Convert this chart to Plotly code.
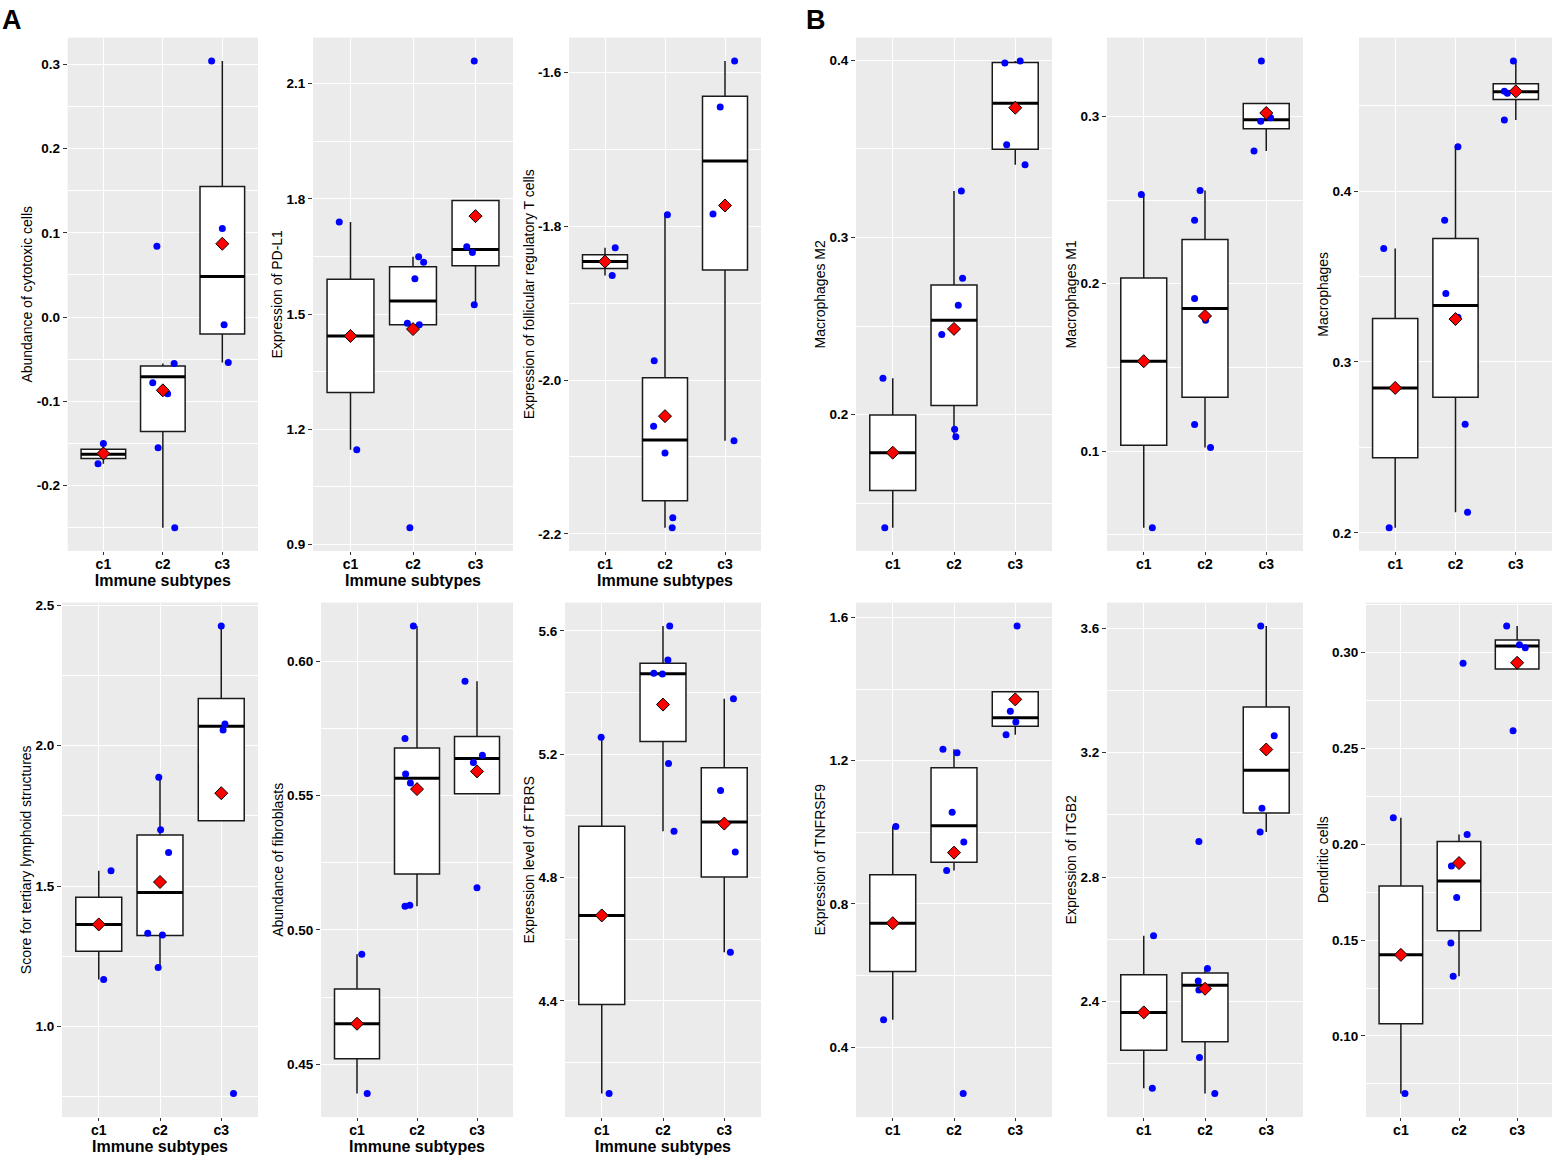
import plotly.graph_objects as go

# ---------------- data ----------------
categories = ["c1", "c2", "c3"]
x_title = "Immune subtypes"

# box stats per group: [lower whisker, Q1, median, Q3, upper whisker]
cyto_label = "Abundance of cytotoxic cells"
cyto_points = [[-0.150, -0.174],
               [0.084, -0.078, -0.091, -0.055, -0.155, -0.250],
               [0.304, 0.105, -0.009, -0.054]]
cyto_box = [[-0.174, -0.168, -0.163, -0.157, -0.150],
            [-0.250, -0.136, -0.071, -0.058, -0.055],
            [-0.054, -0.020, 0.048, 0.155, 0.304]]
cyto_mean = [-0.162, -0.087, 0.087]
cyto_ticks = [-0.2, -0.1, 0.0, 0.1, 0.2, 0.3]
cyto_ticklabels = ["-0.2", "-0.1", "0.0", "0.1", "0.2", "0.3"]

pdl1_label = "Expression of PD-L1"
pdl1_points = [[1.740, 1.147],
               [0.944, 1.649, 1.635, 1.592, 1.476, 1.472],
               [2.159, 1.675, 1.660, 1.524]]
pdl1_box = [[1.147, 1.296, 1.443, 1.591, 1.740],
            [1.472, 1.472, 1.534, 1.623, 1.649],
            [1.524, 1.626, 1.668, 1.796, 1.796]]
pdl1_mean = [1.443, 1.461, 1.755]
pdl1_ticks = [0.9, 1.2, 1.5, 1.8, 2.1]
pdl1_ticklabels = ["0.9", "1.2", "1.5", "1.8", "2.1"]

tfr_label = "Expression of follicular regulatory T cells"
tfr_points = [[-1.828, -1.864],
              [-1.785, -1.975, -2.060, -2.095, -2.179, -2.192],
              [-1.585, -1.645, -1.784, -2.079]]
tfr_box = [[-1.864, -1.855, -1.846, -1.837, -1.828],
           [-2.192, -2.157, -2.078, -1.997, -1.785],
           [-2.079, -1.857, -1.715, -1.631, -1.585]]
tfr_mean = [-1.846, -2.047, -1.773]
tfr_ticks = [-2.2, -2.0, -1.8, -1.6]
tfr_ticklabels = ["-2.2", "-2.0", "-1.8", "-1.6"]

m2_label = "Macrophages M2"
m2_points = [[0.2205, 0.1363],
             [0.3261, 0.2770, 0.2617, 0.2452, 0.1918, 0.1876],
             [0.3984, 0.3995, 0.3523, 0.3410]]
m2_box = [[0.1363, 0.1572, 0.1786, 0.1999, 0.2205],
          [0.1876, 0.2052, 0.2532, 0.2732, 0.3261],
          [0.3410, 0.3497, 0.3757, 0.3986, 0.3995]]
m2_mean = [0.1786, 0.2484, 0.3731]
m2_ticks = [0.2, 0.3, 0.4]
m2_ticklabels = ["0.2", "0.3", "0.4"]

m1_label = "Macrophages M1"
m1_points = [[0.2533, 0.0542],
             [0.2558, 0.2380, 0.1912, 0.1782, 0.1159, 0.1021],
             [0.3332, 0.2972, 0.2992, 0.2794]]
m1_box = [[0.0542, 0.1035, 0.1537, 0.2034, 0.2533],
          [0.1021, 0.1321, 0.1852, 0.2265, 0.2558],
          [0.2794, 0.2927, 0.2981, 0.3078, 0.3078]]
m1_mean = [0.1537, 0.1807, 0.3021]
m1_ticks = [0.1, 0.2, 0.3]
m1_ticklabels = ["0.1", "0.2", "0.3"]

mac_label = "Macrophages"
mac_points = [[0.3664, 0.2030],
              [0.4259, 0.3829, 0.3400, 0.3262, 0.2635, 0.2120],
              [0.4762, 0.4584, 0.4573, 0.4417]]
mac_box = [[0.2030, 0.2439, 0.2848, 0.3255, 0.3664],
           [0.2120, 0.2793, 0.3330, 0.3722, 0.4259],
           [0.4417, 0.4536, 0.4582, 0.4628, 0.4762]]
mac_mean = [0.2848, 0.3251, 0.4584]
mac_ticks = [0.2, 0.3, 0.4]
mac_ticklabels = ["0.2", "0.3", "0.4"]

tls_label = "Score for tertiary lymphoid structures"
tls_points = [[1.555, 1.168],
              [1.888, 1.701, 1.620, 1.333, 1.326, 1.211],
              [2.426, 2.077, 2.056, 0.762]]
tls_box = [[1.168, 1.269, 1.364, 1.461, 1.555],
           [1.211, 1.325, 1.478, 1.682, 1.888],
           [1.733, 1.733, 2.069, 2.168, 2.426]]
tls_mean = [1.364, 1.515, 1.831]
tls_ticks = [1.0, 1.5, 2.0, 2.5]
tls_ticklabels = ["1.0", "1.5", "2.0", "2.5"]

fib_label = "Abundance of fibroblasts"
fib_points = [[0.4910, 0.4391],
              [0.6131, 0.5712, 0.5580, 0.5547, 0.5088, 0.5092],
              [0.5925, 0.5650, 0.5623, 0.5157]]
fib_box = [[0.4391, 0.4521, 0.4651, 0.4780, 0.4910],
           [0.5088, 0.5208, 0.5564, 0.5677, 0.6131],
           [0.5507, 0.5507, 0.5638, 0.5720, 0.5925]]
fib_mean = [0.4651, 0.5524, 0.5590]
fib_ticks = [0.45, 0.50, 0.55, 0.60]
fib_ticklabels = ["0.45", "0.50", "0.55", "0.60"]

ftbrs_label = "Expression level of FTBRS"
ftbrs_points = [[5.255, 4.099],
                [5.616, 5.506, 5.463, 5.460, 5.170, 4.950],
                [5.380, 5.082, 4.883, 4.558]]
ftbrs_box = [[4.099, 4.388, 4.677, 4.966, 5.255],
             [4.950, 5.241, 5.461, 5.495, 5.616],
             [4.558, 4.802, 4.980, 5.156, 5.380]]
ftbrs_mean = [4.677, 5.361, 4.975]
ftbrs_ticks = [4.4, 4.8, 5.2, 5.6]
ftbrs_ticklabels = ["4.4", "4.8", "5.2", "5.6"]

tnf_label = "Expression of TNFRSF9"
tnf_points = [[1.016, 0.476],
              [1.232, 1.222, 1.056, 0.973, 0.893, 0.270],
              [1.576, 1.338, 1.308, 1.272]]
tnf_box = [[0.476, 0.611, 0.746, 0.881, 1.016],
           [0.893, 0.916, 1.018, 1.180, 1.232],
           [1.272, 1.296, 1.320, 1.392, 1.392]]
tnf_mean = [0.746, 0.943, 1.371]
tnf_ticks = [0.4, 0.8, 1.2, 1.6]
tnf_ticklabels = ["0.4", "0.8", "1.2", "1.6"]

itgb2_label = "Expression of ITGB2"
itgb2_points = [[2.611, 2.121],
                [2.914, 2.506, 2.466, 2.437, 2.220, 2.104],
                [3.607, 3.254, 3.021, 2.945]]
itgb2_box = [[2.121, 2.243, 2.365, 2.486, 2.611],
             [2.104, 2.271, 2.452, 2.492, 2.506],
             [2.945, 3.006, 3.143, 3.347, 3.607]]
itgb2_mean = [2.365, 2.441, 3.210]
itgb2_ticks = [2.4, 2.8, 3.2, 3.6]
itgb2_ticklabels = ["2.4", "2.8", "3.2", "3.6"]

dc_label = "Dendritic cells"
dc_points = [[0.2139, 0.0699],
             [0.2945, 0.2051, 0.1887, 0.1722, 0.1485, 0.1312],
             [0.3139, 0.3041, 0.3026, 0.2592]]
dc_box = [[0.0699, 0.1064, 0.1423, 0.1782, 0.2139],
          [0.1312, 0.1549, 0.1808, 0.2015, 0.2051],
          [0.2915, 0.2915, 0.3034, 0.3066, 0.3139]]
dc_mean = [0.1423, 0.1902, 0.2947]
dc_ticks = [0.10, 0.15, 0.20, 0.25, 0.30]
dc_ticklabels = ["0.10", "0.15", "0.20", "0.25", "0.30"]

# horizontal jitter of the points as seen in the picture (category units)
cyto_jit = [[0.00, -0.09], [-0.10, -0.17, 0.08, 0.19, -0.08, 0.20], [-0.18, 0.00, 0.03, 0.10]]
pdl1_jit = [[-0.18, 0.10], [-0.05, 0.09, 0.17, 0.03, -0.09, 0.10], [-0.02, -0.14, -0.05, -0.02]]
tfr_jit = [[0.17, 0.12], [0.04, -0.18, -0.19, 0.00, 0.13, 0.12], [0.16, -0.08, -0.20, 0.15]]
m2_jit = [[-0.16, -0.13], [0.12, 0.14, 0.07, -0.20, 0.01, 0.03], [-0.17, 0.08, -0.14, 0.16]]
m1_jit = [[-0.04, 0.14], [-0.08, -0.17, -0.17, 0.01, -0.17, 0.09], [-0.08, -0.09, 0.07, -0.20]]
mac_jit = [[-0.19, -0.10], [0.04, -0.18, -0.16, 0.04, 0.16, 0.20], [-0.04, -0.19, -0.14, -0.19]]
tls_jit = [[0.20, 0.08], [-0.02, 0.01, 0.14, -0.20, 0.04, -0.03], [0.00, 0.06, 0.03, 0.20]]
fib_jit = [[0.08, 0.17], [-0.06, -0.20, -0.19, -0.11, -0.20, -0.12], [-0.20, 0.09, -0.06, 0.00]]
ftbrs_jit = [[-0.01, 0.12], [0.11, 0.08, -0.15, -0.01, 0.09, 0.18], [0.15, -0.06, 0.18, 0.10]]
tnf_jit = [[0.05, -0.15], [-0.18, 0.05, -0.03, 0.16, -0.12, 0.15], [0.03, -0.08, 0.01, -0.15]]
itgb2_jit = [[0.16, 0.14], [-0.10, 0.04, -0.11, -0.10, -0.09, 0.16], [-0.09, 0.13, -0.07, -0.10]]
dc_jit = [[-0.13, 0.07], [0.07, 0.14, -0.13, -0.04, -0.14, -0.10], [-0.18, 0.04, 0.14, -0.07]]

# ---------------- layout (pixels in a 1557 x 1155 page) ----------------
W, H = 1557, 1155
row_px = [(37.6, 551.0), (602.6, 1117.0)]
panels = [
    (cyto_label, cyto_points, cyto_box, cyto_mean, cyto_ticks, cyto_ticklabels, cyto_jit, True, (67.7, 258), 0),
    (pdl1_label, pdl1_points, pdl1_box, pdl1_mean, pdl1_ticks, pdl1_ticklabels, pdl1_jit, True, (313, 513), 0),
    (tfr_label, tfr_points, tfr_box, tfr_mean, tfr_ticks, tfr_ticklabels, tfr_jit, True, (569, 761), 0),
    (m2_label, m2_points, m2_box, m2_mean, m2_ticks, m2_ticklabels, m2_jit, False, (856, 1052), 0),
    (m1_label, m1_points, m1_box, m1_mean, m1_ticks, m1_ticklabels, m1_jit, False, (1107, 1303), 0),
    (mac_label, mac_points, mac_box, mac_mean, mac_ticks, mac_ticklabels, mac_jit, False, (1359, 1552), 0),
    (tls_label, tls_points, tls_box, tls_mean, tls_ticks, tls_ticklabels, tls_jit, True, (62, 258), 1),
    (fib_label, fib_points, fib_box, fib_mean, fib_ticks, fib_ticklabels, fib_jit, True, (321, 513), 1),
    (ftbrs_label, ftbrs_points, ftbrs_box, ftbrs_mean, ftbrs_ticks, ftbrs_ticklabels, ftbrs_jit, True, (565, 761), 1),
    (tnf_label, tnf_points, tnf_box, tnf_mean, tnf_ticks, tnf_ticklabels, tnf_jit, False, (856, 1052), 1),
    (itgb2_label, itgb2_points, itgb2_box, itgb2_mean, itgb2_ticks, itgb2_ticklabels, itgb2_jit, False, (1107, 1303), 1),
    (dc_label, dc_points, dc_box, dc_mean, dc_ticks, dc_ticklabels, dc_jit, False, (1366, 1552), 1),
]

FONT = "Liberation Sans, Arial, Helvetica, sans-serif"
BOX_W = 0.75
xpos = [1, 2, 3]

fig = go.Figure()
layout_axes = {}
for k, (ylab, pts, box, mean, ticks, tlabels, jit, show_xt, (px0, px1), row) in enumerate(panels, start=1):
    sfx = "" if k == 1 else str(k)
    xr, yr = "x" + sfx, "y" + sfx

    lo = [b[0] for b in box]
    q1 = [b[1] for b in box]
    med = [b[2] for b in box]
    q3 = [b[3] for b in box]
    hi = [b[4] for b in box]

    fig.add_trace(go.Box(
        x=xpos, lowerfence=lo, q1=q1, median=med, q3=q3, upperfence=hi,
        width=BOX_W, whiskerwidth=0, boxpoints=False,
        fillcolor="white", line=dict(color="#1a1a1a", width=1.5),
        hoverinfo="skip", showlegend=False, xaxis=xr, yaxis=yr))

    # thicker median bar (as ggplot draws it)
    mx, my = [], []
    for i, m in zip(xpos, med):
        mx += [i - BOX_W / 2, i + BOX_W / 2, None]
        my += [m, m, None]
    fig.add_trace(go.Scatter(x=mx, y=my, mode="lines", line=dict(color="black", width=3),
                             hoverinfo="skip", showlegend=False, xaxis=xr, yaxis=yr))

    # jittered raw points
    px_, py_ = [], []
    for i, grp, jg in zip(xpos, pts, jit):
        px_ += [i + j for j in jg]
        py_ += grp
    fig.add_trace(go.Scatter(x=px_, y=py_, mode="markers",
                             marker=dict(color="#0000FF", size=7, line=dict(width=0)),
                             hoverinfo="skip", showlegend=False, xaxis=xr, yaxis=yr))

    # group means
    fig.add_trace(go.Scatter(x=xpos, y=mean, mode="markers",
                             marker=dict(symbol="diamond", color="#FF0000", size=10,
                                         line=dict(color="black", width=1)),
                             hoverinfo="skip", showlegend=False, xaxis=xr, yaxis=yr))

    allv = [v for g in pts for v in g] + lo + hi
    vmin, vmax = min(allv), max(allv)
    pad = 0.05 * (vmax - vmin)
    rng = [vmin - pad, vmax + pad]
    step = ticks[1] - ticks[0]
    minor_vals = [t - step / 2 for t in ticks] + [ticks[-1] + step / 2]

    top, bot = row_px[row]
    layout_axes["xaxis" + sfx] = dict(
        domain=[px0 / W, px1 / W], anchor=yr, range=[0.4, 3.6],
        tickmode="array", tickvals=xpos, ticktext=categories,
        showgrid=True, gridcolor="white", gridwidth=1.3, zeroline=False,
        showline=False, ticks="outside", ticklen=3, tickwidth=1, tickcolor="#333333",
        ticklabelstandoff=-3,
        tickfont=dict(family=FONT, size=14, color="black", weight="bold"),
        title=dict(text=x_title if show_xt else "", standoff=1,
                   font=dict(family=FONT, size=16, color="black", weight="bold")),
        automargin=False, fixedrange=True)
    layout_axes["yaxis" + sfx] = dict(
        domain=[1 - bot / H, 1 - top / H], anchor=xr, range=rng,
        tickmode="array", tickvals=ticks, ticktext=tlabels,
        showgrid=True, gridcolor="white", gridwidth=1.3, zeroline=False,
        minor=dict(tickmode="array", tickvals=minor_vals, showgrid=True,
                   gridcolor="white", gridwidth=0.6, ticks=""),
        showline=False, ticks="outside", ticklen=4, tickwidth=1, tickcolor="#333333",
        tickfont=dict(family=FONT, size=13.5, color="black", weight="bold"),
        title=dict(text=ylab, standoff=0,
                   font=dict(family=FONT, size=14, color="black")),
        automargin=False, fixedrange=True)

fig.update_layout(
    width=W, height=H, margin=dict(l=0, r=0, t=0, b=0),
    paper_bgcolor="white", plot_bgcolor="#EBEBEB",
    font=dict(family=FONT, color="black"),
    showlegend=False,
    **layout_axes,
    annotations=[
        dict(text="<b>A</b>", x=0 / W, y=1 - 3 / H, xref="paper", yref="paper",
             xanchor="left", yanchor="top", showarrow=False,
             font=dict(family=FONT, size=27, color="black")),
        dict(text="<b>B</b>", x=804 / W, y=1 - 3 / H, xref="paper", yref="paper",
             xanchor="left", yanchor="top", showarrow=False,
             font=dict(family=FONT, size=27, color="black")),
    ],
)

fig.write_html("out.html", config={"displayModeBar": False},
               post_script="document.body.style.margin='0px';")
